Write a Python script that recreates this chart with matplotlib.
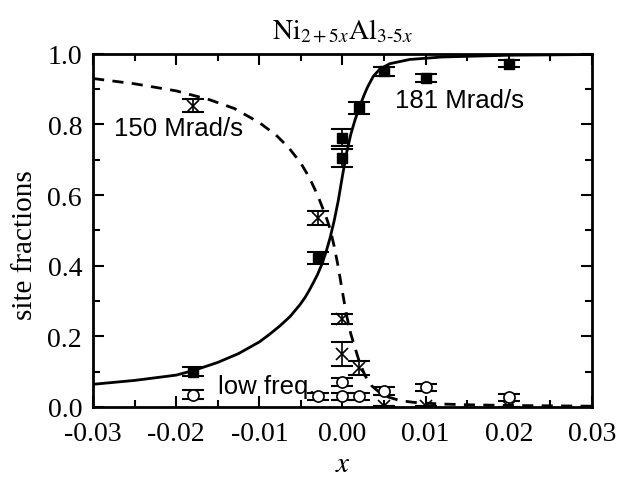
# site fractions of Ni(2+5x)Al(3-5x) vs composition x

import matplotlib
matplotlib.use('Agg')
import matplotlib.pyplot as plt

# 181 Mrad/s (filled squares)
sq_x = [-0.018, -0.003, 0.0, 0.0, 0.002, 0.005, 0.010, 0.020]
sq_y = [0.100, 0.421, 0.705, 0.762, 0.847, 0.950, 0.932, 0.972]
sq_err = [0.013, 0.017, 0.025, 0.024, 0.017, 0.012, 0.012, 0.010]

# 150 Mrad/s (crosses)
cr_x = [-0.018, -0.003, 0.0, 0.0, 0.002, 0.005, 0.010, 0.020]
cr_y = [0.853, 0.535, 0.249, 0.150, 0.110, 0.003, 0.003, 0.001]
cr_err = [0.018, 0.021, 0.014, 0.033, 0.020, 0.0, 0.0, 0.0]

# low freq. (open circles)
ci_x = [-0.018, -0.003, 0.0, 0.0, 0.002, 0.005, 0.010, 0.020]
ci_y = [0.035, 0.030, 0.070, 0.030, 0.030, 0.045, 0.055, 0.027]
ci_err = [0.013, 0.010, 0.012, 0.010, 0.010, 0.010, 0.010, 0.010]

# solid fit curve
fit1_x = [-0.030, -0.025, -0.020, -0.0178, -0.015, -0.0125, -0.010, -0.0088, -0.0075,
          -0.0063, -0.0051, -0.0045, -0.004, -0.0035, -0.003, -0.0025, -0.002, -0.0015,
          -0.001, -0.0005, 0.0, 0.0005, 0.001, 0.0015, 0.0021, 0.0026, 0.003, 0.0037,
          0.0045, 0.0057, 0.0081, 0.012, 0.020, 0.030]
fit1_y = [0.064, 0.075, 0.090, 0.104, 0.126, 0.151, 0.184, 0.205, 0.230,
          0.256, 0.290, 0.310, 0.330, 0.352, 0.375, 0.403, 0.437, 0.478,
          0.527, 0.585, 0.655, 0.720, 0.772, 0.812, 0.853, 0.883, 0.905, 0.936,
          0.957, 0.972, 0.984, 0.991, 0.996, 0.998]

# dashed fit curve
fit2_x = [-0.030, -0.025, -0.020, -0.016, -0.013, -0.0115, -0.010, -0.008, -0.0065,
          -0.005, -0.004, -0.003, -0.0025, -0.002, -0.0015, -0.001, -0.0005, 0.0,
          0.0005, 0.001, 0.0015, 0.002, 0.0027, 0.0035, 0.0045, 0.0055, 0.0069,
          0.0085, 0.0097, 0.012, 0.015, 0.020, 0.030]
fit2_y = [0.930, 0.915, 0.895, 0.870, 0.845, 0.825, 0.805, 0.770, 0.735,
          0.690, 0.650, 0.600, 0.570, 0.540, 0.505, 0.455, 0.395, 0.325,
          0.258, 0.207, 0.168, 0.130, 0.089, 0.060, 0.040, 0.028, 0.018,
          0.013, 0.011, 0.008, 0.006, 0.004, 0.002]

plt.rcParams['font.family'] = ['Liberation Serif', 'DejaVu Serif']
plt.rcParams['mathtext.fontset'] = 'stix'


def main():
    fig = plt.figure(figsize=(6.21, 4.85), dpi=100)
    ax = fig.add_axes([0.150, 0.159, 0.803, 0.728])

    ax.plot(fit1_x, fit1_y, color='black', lw=2.0)
    ax.plot(fit2_x, fit2_y, color='black', lw=2.0, ls=(0, (4, 3)))

    eb = dict(fmt='none', ecolor='black', elinewidth=1.2, capsize=8, capthick=1.5)
    ax.errorbar(sq_x, sq_y, yerr=sq_err, **eb)
    ax.errorbar(cr_x, cr_y, yerr=cr_err, **eb)
    ax.errorbar(ci_x, ci_y, yerr=ci_err, **eb)
    ax.plot(sq_x, sq_y, 's', color='black', ms=7, ls='none')
    ax.plot(cr_x, cr_y, 'x', color='black', ms=9, mew=1.2, ls='none')
    ax.plot(ci_x, ci_y, 'o', mfc='white', mec='black', ms=8, mew=1.2, ls='none')

    sans = ['Liberation Sans', 'DejaVu Sans']
    ax.text(-0.0275, 0.79, '150 Mrad/s', family=sans, fontsize=18.5, va='center')
    ax.text(0.0063, 0.87, '181 Mrad/s', family=sans, fontsize=18.5, va='center')
    ax.text(-0.0150, 0.06, 'low freq.', family=sans, fontsize=18.5, va='center')

    ax.set_xlim(-0.03, 0.03)
    ax.set_ylim(0.0, 1.0)
    ax.set_xticks([-0.03, -0.02, -0.01, 0.0, 0.01, 0.02, 0.03])
    ax.set_xticklabels(['-0.03', '-0.02', '-0.01', '0.00', '0.01', '0.02', '0.03'])
    ax.set_yticks([0.0, 0.2, 0.4, 0.6, 0.8, 1.0])
    ax.set_yticklabels(['0.0', '0.2', '0.4', '0.6', '0.8', '1.0'])
    ax.set_xticks([-0.025, -0.015, -0.005, 0.005, 0.015, 0.025], minor=True)
    ax.set_yticks([0.1, 0.3, 0.5, 0.7, 0.9], minor=True)
    ax.tick_params(which='both', direction='in', top=True, right=True, width=1.5,
                   labelsize=20)
    ax.tick_params(which='major', length=8)
    ax.tick_params(which='minor', length=5)
    ax.tick_params(axis='x', which='major', pad=10)
    ax.tick_params(axis='y', which='major', pad=8)
    for s in ax.spines.values():
        s.set_linewidth(2)

    ax.set_xlabel('$x$', fontsize=21, labelpad=4)
    ax.set_ylabel('site fractions', fontsize=21)
    ax.yaxis.set_label_coords(-0.11, 0.46)
    ax.set_title(r'$\mathrm{Ni}_{2+5x}\mathrm{Al}_{3\text{-}5x}$', fontsize=20, pad=12)

    fig.savefig('out.png', dpi=100)


if __name__ == "__main__":
    main()
